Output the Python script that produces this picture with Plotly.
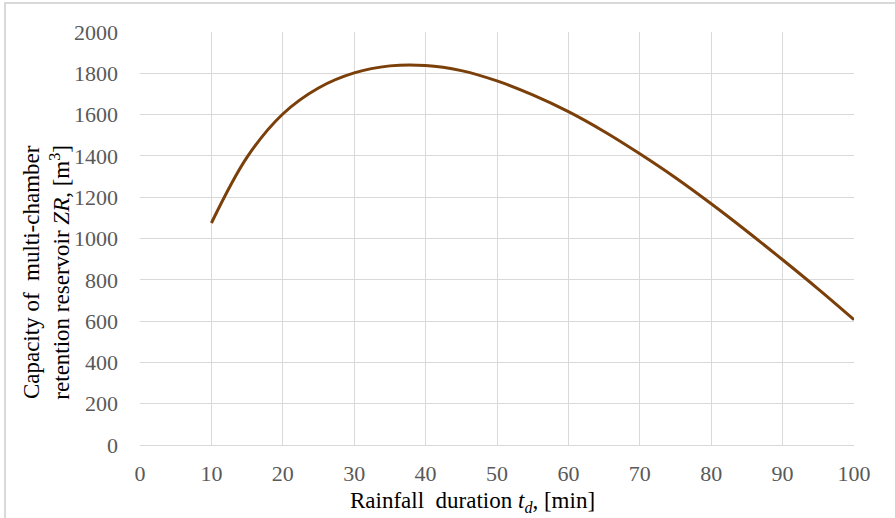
import plotly.graph_objects as go

# Rainfall duration [min] and corresponding required reservoir capacity [m3]
duration_min = [10, 15, 20, 25, 30, 35, 40, 45, 50, 55, 60, 65, 70, 75, 80,
                85, 90, 95, 100]
capacity_m3 = [1075, 1394, 1603, 1729, 1802, 1836, 1838, 1813, 1763, 1695,
               1614, 1518, 1410, 1294, 1168, 1035, 897, 755, 607]

x_ticks = [0, 10, 20, 30, 40, 50, 60, 70, 80, 90, 100]
y_ticks = [0, 200, 400, 600, 800, 1000, 1200, 1400, 1600, 1800, 2000]

FONT = "Liberation Serif, Times New Roman, serif"
GRID = "#d9d9d9"
TICK_COLOR = "#595959"

fig = go.Figure()
fig.add_trace(go.Scatter(
    x=duration_min, y=capacity_m3, mode="lines",
    line=dict(color="#7B3F0A", width=3, shape="spline", smoothing=1.0),
    hoverinfo="x+y", showlegend=False,
))

fig.update_layout(
    width=895, height=518,
    margin=dict(l=140, r=41, t=32, b=73),
    paper_bgcolor="white", plot_bgcolor="white",
    font=dict(family=FONT, color=TICK_COLOR, size=22),
    xaxis=dict(
        range=[0, 100], tickvals=x_ticks, showgrid=True, gridcolor=GRID,
        gridwidth=1, zeroline=False, showline=True, linecolor=GRID,
        linewidth=1, ticks="", ticklabelstandoff=9,
        tickfont=dict(family=FONT, size=22, color=TICK_COLOR),
    ),
    yaxis=dict(
        range=[0, 2000], tickvals=y_ticks, showgrid=True, gridcolor=GRID,
        gridwidth=1, zeroline=False, showline=False, ticks="",
        ticklabelstandoff=21,
        tickfont=dict(family=FONT, size=22, color=TICK_COLOR),
    ),
    shapes=[dict(
        type="rect", xref="paper", yref="paper",
        x0=-0.189, x1=1.3, y0=-0.4, y1=1.07,
        line=dict(color=GRID, width=2), fillcolor="rgba(0,0,0,0)",
        layer="below",
    )],
    annotations=[
        dict(
            text="Capacity of  multi-chamber<br>retention reservoir <i>ZR</i>, [m<sup>3</sup>]",
            xref="paper", yref="paper", x=-0.131, y=0.4185,
            xanchor="center", yanchor="middle", textangle=-90,
            showarrow=False, font=dict(family=FONT, size=23, color="black"),
        ),
        dict(
            text="Rainfall  duration <i>t<sub>d</sub></i>, [min]",
            xref="paper", yref="paper", x=0.465, y=-0.1376,
            xanchor="center", yanchor="middle",
            showarrow=False, font=dict(family=FONT, size=23, color="black"),
        ),
    ],
)

fig.write_html("out.html")
